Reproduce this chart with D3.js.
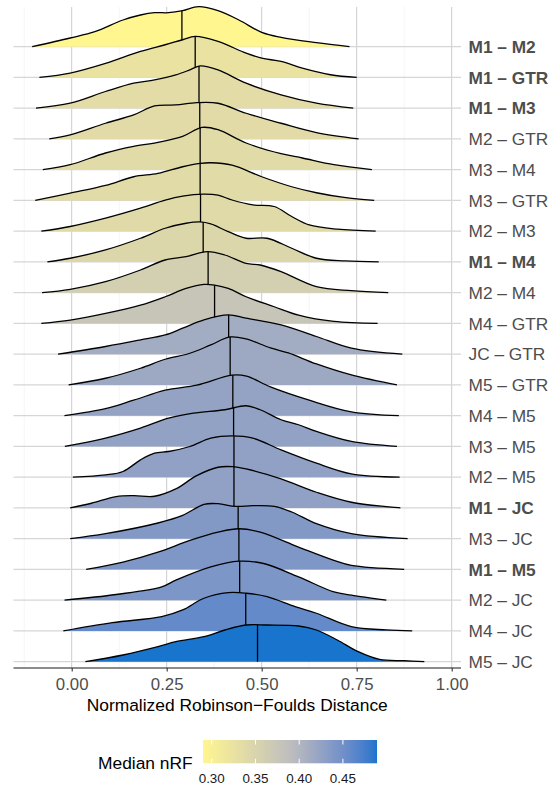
<!DOCTYPE html>
<html><head><meta charset="utf-8">
<script src="https://cdn.jsdelivr.net/npm/d3@7"></script>
<style>body{margin:0;background:#fff;} svg{display:block;font-family:"Liberation Sans",Arial,sans-serif;}</style>
</head><body><svg id="c" width="551" height="786"></svg>
<script>
const categories = ["M1 – M2","M1 – GTR","M1 – M3","M2 – GTR","M3 – M4","M3 – GTR","M2 – M3","M1 – M4","M2 – M4","M4 – GTR","JC – GTR","M5 – GTR","M4 – M5","M3 – M5","M2 – M5","M1 – JC","M3 – JC","M1 – M5","M2 – JC","M4 – JC","M5 – JC"];
const boldCategories = ["M1 – M2","M1 – GTR","M1 – M3","M1 – M4","M1 – JC","M1 – M5"];
const medians = [0.290,0.325,0.335,0.337,0.338,0.338,0.339,0.346,0.359,0.376,0.413,0.417,0.424,0.426,0.427,0.427,0.438,0.440,0.442,0.458,0.489];
const ridgeX = [
 [-0.104,-0.004,0.061,0.135,0.181,0.218,0.255,0.292,0.334,0.385,0.44,0.5,0.551,0.644,0.731],
 [-0.085,-0.004,0.089,0.181,0.246,0.292,0.325,0.385,0.459,0.5,0.551,0.607,0.681,0.75],
 [-0.094,-0.004,0.089,0.163,0.218,0.274,0.311,0.338,0.385,0.459,0.551,0.644,0.741],
 [-0.059,-0.004,0.089,0.163,0.218,0.274,0.329,0.385,0.459,0.551,0.644,0.755],
 [-0.076,-0.004,0.089,0.163,0.227,0.292,0.343,0.385,0.459,0.551,0.607,0.69,0.79],
 [-0.096,-0.004,0.089,0.163,0.227,0.292,0.338,0.366,0.422,0.5,0.579,0.644,0.717,0.796],
 [-0.08,-0.004,0.089,0.181,0.246,0.292,0.346,0.385,0.422,0.477,0.533,0.579,0.625,0.699,0.8],
 [-0.064,-0.004,0.089,0.181,0.246,0.301,0.338,0.366,0.412,0.459,0.514,0.579,0.644,0.72,0.808],
 [-0.078,-0.004,0.089,0.181,0.246,0.301,0.357,0.403,0.459,0.496,0.551,0.644,0.736,0.833],
 [-0.08,-0.004,0.089,0.181,0.246,0.301,0.348,0.376,0.412,0.459,0.533,0.597,0.69,0.805],
 [-0.036,0.089,0.181,0.246,0.292,0.348,0.412,0.459,0.551,0.644,0.736,0.87],
 [-0.008,0.089,0.181,0.246,0.311,0.366,0.417,0.459,0.523,0.57,0.644,0.736,0.856],
 [-0.019,0.089,0.163,0.246,0.329,0.422,0.46,0.523,0.625,0.736,0.861],
 [-0.018,0.089,0.181,0.255,0.32,0.403,0.459,0.496,0.551,0.597,0.644,0.736,0.856],
 [0.003,0.089,0.135,0.181,0.218,0.255,0.311,0.366,0.422,0.477,0.551,0.644,0.736,0.863],
 [-0.004,0.052,0.117,0.163,0.218,0.274,0.329,0.385,0.422,0.459,0.551,0.644,0.736,0.865],
 [-0.004,0.089,0.227,0.292,0.348,0.385,0.431,0.477,0.533,0.579,0.644,0.736,0.884],
 [0.038,0.135,0.227,0.311,0.385,0.44,0.496,0.597,0.69,0.736,0.875],
 [-0.019,0.117,0.237,0.274,0.366,0.44,0.505,0.597,0.69,0.736,0.828],
 [-0.022,0.107,0.237,0.292,0.348,0.412,0.459,0.514,0.588,0.644,0.736,0.828,0.896],
 [0.036,0.135,0.227,0.274,0.348,0.403,0.459,0.514,0.597,0.644,0.699,0.754,0.81,0.875,0.928]
];
const ridgeDensity = [
 [0,0.87,1.5,2.67,3.17,3.4,3.4,3.6,4.0,3.6,2.67,1.43,0.93,0.4,0],
 [0,0.43,1.4,2.6,3.27,3.77,4.1,3.6,2.43,1.93,1.6,0.93,0.27,0],
 [0,0.5,1.67,2.5,2.83,3.33,3.83,4.23,3.83,2.5,1.33,0.5,0],
 [0,0.4,1.57,2.4,3.3,3.4,3.63,3.57,2.57,1.57,0.63,0],
 [0,0.5,1.67,2.33,2.73,3.33,4.23,4.0,2.67,1.6,1.17,0.5,0],
 [0,0.73,1.5,2.37,2.7,3.37,3.7,3.77,3.53,2.37,1.37,0.77,0.3,0],
 [0,0.47,1.3,2.3,3.1,3.5,3.7,3.6,3.12,2.63,2.47,1.47,0.63,0.2,0],
 [0,0.37,1.2,2.37,3.37,3.87,4.0,3.8,3.03,2.37,2.37,1.37,0.37,0.1,0],
 [0,0.33,1.1,2.27,3.27,3.6,4.1,3.77,2.93,2.77,2.1,0.6,0.2,0],
 [0,0.33,1.0,1.83,2.67,3.5,3.9,3.83,3.5,2.67,1.67,0.83,0.2,0],
 [0,0.77,1.43,1.93,2.6,3.43,3.93,3.6,2.93,1.77,0.6,0],
 [0,0.67,1.67,2.57,3.17,4.0,4.8,4.6,3.7,3.2,2.1,1.0,0],
 [0,0.7,1.55,2.55,3.05,4.05,3.95,2.88,1.55,0.38,0],
 [0,0.83,1.83,2.83,3.33,3.67,4.07,3.67,2.67,2.17,1.5,0.5,0],
 [0,0.23,0.57,1.73,2.4,2.57,3.07,3.9,4.13,3.9,2.73,1.4,0.33,0],
 [0,0.47,1.13,1.23,1.17,1.9,3.23,4.07,4.13,3.9,2.9,1.57,0.57,0],
 [0,0.5,1.57,2.33,3.43,3.5,3.23,3.3,3.23,2.67,1.5,0.5,0],
 [0,0.73,1.73,2.9,3.73,4.07,3.73,2.23,0.9,0.4,0],
 [0,0.57,1.33,2.0,3.33,3.9,3.67,2.33,0.83,0.5,0],
 [0,0.83,1.43,2.1,3.27,3.83,3.77,3.43,2.43,1.77,0.43,0.1,0],
 [0,0.67,1.5,2.0,2.5,3.17,3.67,3.67,3.57,3.17,2.17,1.0,0.23,0.1,0]
];
const xTicks = [0, 0.25, 0.5, 0.75, 1];
const xMinorTicks = [-0.125, 0.125, 0.375, 0.625, 0.875];
const legendTicks = [0.30, 0.35, 0.40, 0.45];
const gradientColors = ["#FFF68F", "#BEBEBE", "#1874CD"];

const svg = d3.select("#c");
const P = {left: 13.5, right: 461, top: 7, bottom: 668};
const x = d3.scaleLinear().domain([0, 1]).range([71.7, 451.7]);
const y = d3.scalePoint().domain(categories).range([46.7, 661.7]);
const hs = d3.scaleLinear().domain([0, 1]).range([0, 10]);
const medExt = d3.extent(medians);
const color = d3.scaleLinear()
  .domain([medExt[0], (medExt[0] + medExt[1]) / 2, medExt[1]])
  .range(gradientColors).interpolate(d3.interpolateLab);

// grid
const grid = svg.append("g");
grid.selectAll(".mn").data(xMinorTicks).join("line")
  .attr("x1", d => x(d)).attr("x2", d => x(d)).attr("y1", P.top).attr("y2", P.bottom)
  .attr("stroke", "#f0f0f0").attr("stroke-width", 0.6);
grid.selectAll(".mj").data(xTicks).join("line")
  .attr("x1", d => x(d)).attr("x2", d => x(d)).attr("y1", P.top).attr("y2", P.bottom)
  .attr("stroke", "#cccccc").attr("stroke-width", 1);
grid.selectAll(".hz").data(categories).join("line")
  .attr("x1", P.left).attr("x2", P.right).attr("y1", d => y(d)).attr("y2", d => y(d))
  .attr("stroke", "#d6d6d6").attr("stroke-width", 1.2);

// ridges
const crv = d3.curveCatmullRom.alpha(0.5);
const area = d3.area().x(d => x(d[0])).y0(0).y1(d => Math.min(0, -hs(d[1]))).curve(crv);
const line = d3.line().x(d => x(d[0])).y(d => -hs(d[1])).curve(crv);
categories.forEach((cat, i) => {
  const pts = ridgeX[i].map((v, j) => [v, ridgeDensity[i][j]]);
  const g = svg.append("g").attr("transform", `translate(0,${y(cat)})`);
  g.append("path").attr("d", area(pts)).attr("fill", color(medians[i]));
  const ln = g.append("path").attr("d", line(pts)).attr("fill", "none")
    .attr("stroke", "#000").attr("stroke-width", 1.3).attr("stroke-linejoin", "round");
  const node = ln.node(), L = node.getTotalLength(), tx = x(medians[i]);
  let lo = 0, hi = L;
  for (let k = 0; k < 40; k++) { const m = (lo + hi) / 2; if (node.getPointAtLength(m).x < tx) lo = m; else hi = m; }
  const py = node.getPointAtLength((lo + hi) / 2).y;
  g.append("line").attr("x1", tx).attr("x2", tx).attr("y1", 0).attr("y2", py)
    .attr("stroke", "#000").attr("stroke-width", 1.3);
});

// x axis
svg.append("line").attr("x1", P.left).attr("x2", P.right).attr("y1", P.bottom).attr("y2", P.bottom)
  .attr("stroke", "#1a1a1a").attr("stroke-width", 1.1);
const ax = svg.append("g").attr("transform", `translate(0,${P.bottom})`)
  .call(d3.axisBottom(x).tickValues(xTicks).tickFormat(d3.format(".2f")).tickSize(3.5));
ax.select(".domain").remove();
ax.selectAll(".tick line").attr("stroke", "#333").attr("stroke-width", 1.1);
ax.selectAll(".tick text").attr("y", 22).attr("dy", 0).attr("fill", "#4d4d4d")
  .attr("font-size", "16.8px").attr("font-family", '"Liberation Sans",Arial,sans-serif');

svg.append("text").attr("x", (P.left + P.right) / 2).attr("y", 711).attr("text-anchor", "middle")
  .attr("font-size", "17.4px").attr("fill", "#000").text("Normalized Robinson−Foulds Distance");

// y labels
svg.append("g").selectAll("text").data(categories).join("text")
  .attr("x", 468.5).attr("y", d => y(d)).attr("dy", "0.36em")
  .attr("font-size", "17.3px").attr("fill", "#4d4d4d")
  .attr("font-weight", d => boldCategories.includes(d) ? "bold" : "normal")
  .text(d => d);

// legend
const lx = d3.scaleLinear().domain(medExt).range([203, 377]);
const defs = svg.append("defs");
const grad = defs.append("linearGradient").attr("id", "lg");
d3.range(0, 1.0001, 0.02).forEach(t => {
  grad.append("stop").attr("offset", t).attr("stop-color", color(medExt[0] + t * (medExt[1] - medExt[0])));
});
svg.append("rect").attr("x", 203).attr("y", 740).attr("width", 174).attr("height", 23.3).attr("fill", "url(#lg)");
const lt = svg.append("g");
legendTicks.forEach(t => {
  lt.append("line").attr("x1", lx(t)).attr("x2", lx(t)).attr("y1", 740).attr("y2", 744.5).attr("stroke", "#fff").attr("stroke-width", 1);
  lt.append("line").attr("x1", lx(t)).attr("x2", lx(t)).attr("y1", 758.8).attr("y2", 763.3).attr("stroke", "#fff").attr("stroke-width", 1);
  lt.append("text").attr("x", lx(t)).attr("y", 783.3).attr("text-anchor", "middle")
    .attr("font-size", "13.4px").attr("fill", "#1a1a1a").text(d3.format(".2f")(t));
});
svg.append("text").attr("x", 98).attr("y", 769).attr("font-size", "17.4px").attr("fill", "#000").text("Median nRF");
</script></body></html>
